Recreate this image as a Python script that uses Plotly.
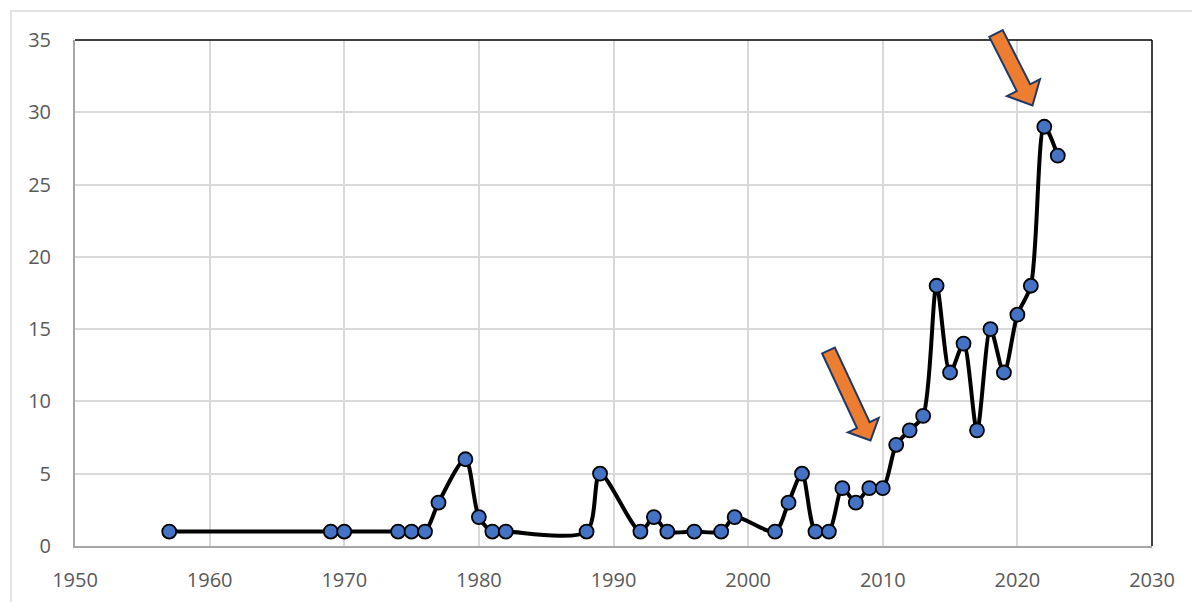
import math
import plotly.graph_objects as go

years = [1957, 1969, 1970, 1974, 1975, 1976, 1977, 1979, 1980, 1981, 1982, 1988, 1989,
         1992, 1993, 1994, 1996, 1998, 1999, 2002, 2003, 2004, 2005, 2006, 2007, 2008,
         2009, 2010, 2011, 2012, 2013, 2014, 2015, 2016, 2017, 2018, 2019, 2020, 2021,
         2022, 2023]
counts = [1, 1, 1, 1, 1, 1, 3, 6, 2, 1, 1, 1, 5,
          1, 2, 1, 1, 1, 2, 1, 3, 5, 1, 1, 4, 3,
          4, 4, 7, 8, 9, 18, 12, 14, 8, 15, 12, 16, 18,
          29, 27]
x_ticks = [1950, 1960, 1970, 1980, 1990, 2000, 2010, 2020, 2030]
y_ticks = [0, 5, 10, 15, 20, 25, 30, 35]

W, H = 1192, 602
L, R, T, B = 75, 40, 40, 56
PW, PH = W - L - R, H - T - B


def px(x, y):
    return ((x - L) / PW, (H - B - y) / PH)


def arrow_path(tail, tip, shaft_w, head_w, head_len):
    dx, dy = tip[0] - tail[0], tip[1] - tail[1]
    ln = math.hypot(dx, dy)
    ux, uy = dx / ln, dy / ln
    nx, ny = -uy, ux
    bx, by = tip[0] - ux * head_len, tip[1] - uy * head_len
    pts = [
        (tail[0] + nx * shaft_w / 2, tail[1] + ny * shaft_w / 2),
        (bx + nx * shaft_w / 2, by + ny * shaft_w / 2),
        (bx + nx * head_w / 2, by + ny * head_w / 2),
        tip,
        (bx - nx * head_w / 2, by - ny * head_w / 2),
        (bx - nx * shaft_w / 2, by - ny * shaft_w / 2),
        (tail[0] - nx * shaft_w / 2, tail[1] - ny * shaft_w / 2),
    ]
    pp = [px(*p) for p in pts]
    return "M " + " L ".join(f"{a:.5f},{b:.5f}" for a, b in pp) + " Z"


fig = go.Figure()
fig.add_trace(go.Scatter(
    x=years, y=counts, mode="lines+markers",
    line=dict(color="black", width=4, shape="spline", smoothing=0.8),
    marker=dict(size=14, color="#4472C4", line=dict(color="black", width=1.8)),
    cliponaxis=False, showlegend=False,
))

shapes = []
# outer chart border
x0, y0 = px(11, 11)
x1, y1 = px(1200, 610)
shapes.append(dict(type="rect", xref="paper", yref="paper", x0=x0, y0=y1, x1=x1, y1=y0,
                   line=dict(color="#d9d9d9", width=1.5), layer="below"))
# top and right black border of the plot area
shapes.append(dict(type="line", xref="paper", yref="paper", x0=0, x1=1, y0=1, y1=1,
                   line=dict(color="black", width=1.5)))
shapes.append(dict(type="line", xref="paper", yref="paper", x0=1, x1=1, y0=0, y1=1,
                   line=dict(color="black", width=1.5)))
# arrows
for tail, tip, sw, hw, hl in [((996, 33.5), (1032.5, 105.5), 15, 37, 20),
                              ((828.5, 350.5), (870.5, 440.5), 14, 34, 17)]:
    shapes.append(dict(type="path", xref="paper", yref="paper",
                       path=arrow_path(tail, tip, sw, hw, hl),
                       fillcolor="#ED7D31", line=dict(color="#203864", width=2)))

fig.update_layout(
    width=W, height=H,
    margin=dict(l=L, r=R, t=T, b=B),
    paper_bgcolor="white", plot_bgcolor="white",
    font=dict(family="Open Sans", size=20, color="#595959"),
    shapes=shapes,
    xaxis=dict(range=[1950, 2030], tickvals=x_ticks, showgrid=True,
               gridcolor="#d9d9d9", gridwidth=1.5, zeroline=False,
               showline=True, linecolor="#a6a6a6", linewidth=2, automargin=False,
               ticks="", ticklabelstandoff=15, tickfont=dict(size=20)),
    yaxis=dict(range=[0, 35], tickvals=y_ticks, showgrid=True,
               gridcolor="#d9d9d9", gridwidth=1.5, zeroline=False,
               showline=True, linecolor="#a6a6a6", linewidth=2, automargin=False,
               ticks="", ticklabelstandoff=18, tickfont=dict(size=20)),
)

fig.write_html("out.html", config={"displayModeBar": False},
               post_script="document.body.style.margin='0';")
